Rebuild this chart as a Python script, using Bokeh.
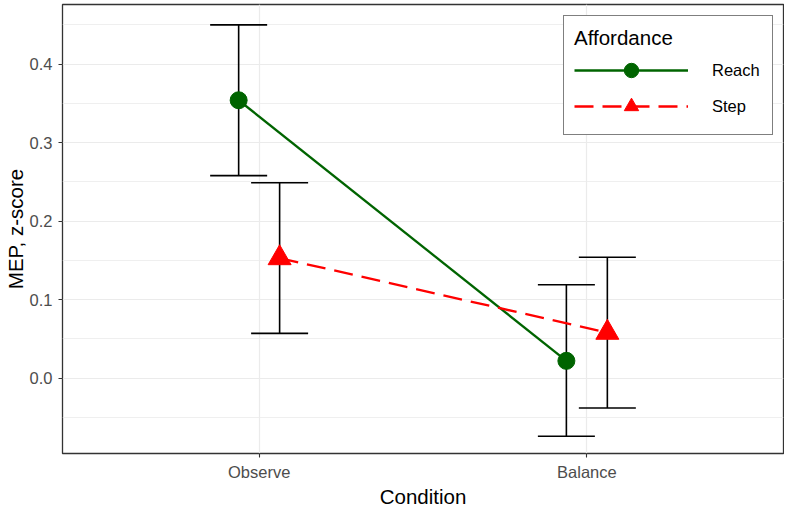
from bokeh.plotting import figure
from bokeh.models import (ColumnDataSource, Range1d, FixedTicker, Whisker, TeeHead,
                          Legend, LegendItem, NumeralTickFormatter)
from bokeh.transform import dodge
from bokeh.embed import file_html
from bokeh.resources import INLINE

# ---- data ----
conditions = ["Observe", "Balance"]
affordances = ["Reach", "Step"]
reach_mean = [0.354, 0.022]
reach_lower = [0.258, -0.074]
reach_upper = [0.450, 0.119]
step_mean = [0.153, 0.058]
step_lower = [0.057, -0.038]
step_upper = [0.249, 0.154]
y_ticks = [0.0, 0.1, 0.2, 0.3, 0.4]
y_minor = [-0.05, 0.05, 0.15, 0.25, 0.35, 0.45]

cond_pos = [i + 1 for i in range(len(conditions))]
DODGE = 0.0625
FONT = "Liberation Sans"

p = figure(width=784, height=510, output_backend="svg", toolbar_location=None,
           x_range=Range1d(0.4, 2.6), y_range=Range1d(-0.096, 0.476),
           min_border_left=62, min_border_right=1, min_border_top=4, min_border_bottom=57)

p.background_fill_color = "white"
p.border_fill_color = "white"
p.outline_line_color = "#333333"
p.outline_line_width = 1.3

# axes
for ax in (p.xaxis[0], p.yaxis[0]):
    ax.axis_line_color = None
    ax.major_tick_line_color = "#333333"
    ax.major_tick_line_width = 1.1
    ax.major_tick_out = 4
    ax.major_tick_in = 0
    ax.minor_tick_out = 0
    ax.minor_tick_in = 0
    ax.major_label_text_font = FONT
    ax.major_label_text_font_size = "16.5px"
    ax.major_label_text_color = "#4d4d4d"
    ax.axis_label_text_font = FONT
    ax.axis_label_text_font_size = "20.5px"
    ax.axis_label_text_font_style = "normal"
    ax.axis_label_text_color = "black"

p.xaxis.ticker = FixedTicker(ticks=cond_pos)
p.xaxis.major_label_overrides = {pos: c for pos, c in zip(cond_pos, conditions)}
p.xaxis.axis_label = "Condition"
p.xaxis.major_label_standoff = 5
p.xaxis.axis_label_standoff = 1

p.yaxis.ticker = FixedTicker(ticks=y_ticks, minor_ticks=y_minor)
p.yaxis.formatter = NumeralTickFormatter(format="0.0")
p.yaxis.axis_label = "MEP, z-score"
p.yaxis.major_label_standoff = 6
p.yaxis.axis_label_standoff = 0

# grids
p.xgrid.grid_line_color = "#ebebeb"
p.xgrid.grid_line_width = 1.2
p.ygrid.grid_line_color = "#ebebeb"
p.ygrid.grid_line_width = 1.2
p.ygrid.minor_grid_line_color = "#ebebeb"
p.ygrid.minor_grid_line_width = 0.8

src_r = ColumnDataSource(dict(x=cond_pos, mean=reach_mean, lower=reach_lower, upper=reach_upper))
src_s = ColumnDataSource(dict(x=cond_pos, mean=step_mean, lower=step_lower, upper=step_upper))

for src, off in ((src_r, -DODGE), (src_s, DODGE)):
    w = Whisker(base=dodge("x", off, range=p.x_range), upper="upper", lower="lower",
                source=src, dimension="height", line_color="black", line_width=1.6,
                upper_head=TeeHead(size=57, line_color="black", line_width=1.6),
                lower_head=TeeHead(size=57, line_color="black", line_width=1.6))
    p.add_layout(w)

lr = p.line(x=dodge("x", -DODGE, range=p.x_range), y="mean", source=src_r,
            line_color="#006400", line_width=2.3)
ls = p.line(x=dodge("x", DODGE, range=p.x_range), y="mean", source=src_s,
            line_color="#ff0000", line_width=2.3, line_dash="19 9")
sr = p.scatter(x=dodge("x", -DODGE, range=p.x_range), y="mean", source=src_r,
               marker="circle", size=17, fill_color="#006400", line_color="#006400")
ss = p.scatter(x=dodge("x", DODGE, range=p.x_range), y="mean", source=src_s,
               marker="triangle", size=23, fill_color="#ff0000", line_color="#ff0000")

legend = Legend(items=[LegendItem(label=affordances[0], renderers=[lr, sr]),
                       LegendItem(label=affordances[1], renderers=[ls, ss])],
                title="Affordance", location=(501, 318),
                title_text_font=FONT, title_text_font_size="20.5px",
                title_text_font_style="normal", title_text_color="black", title_standoff=2,
                label_text_font=FONT, label_text_font_size="16.5px", label_text_color="black",
                glyph_width=114, glyph_height=36, spacing=0, label_standoff=24,
                label_width=50, padding=10, margin=0,
                border_line_color="black", border_line_width=1.3,
                background_fill_color="white", background_fill_alpha=1.0)
p.add_layout(legend)

open("out.html", "w").write(file_html(p, INLINE))
